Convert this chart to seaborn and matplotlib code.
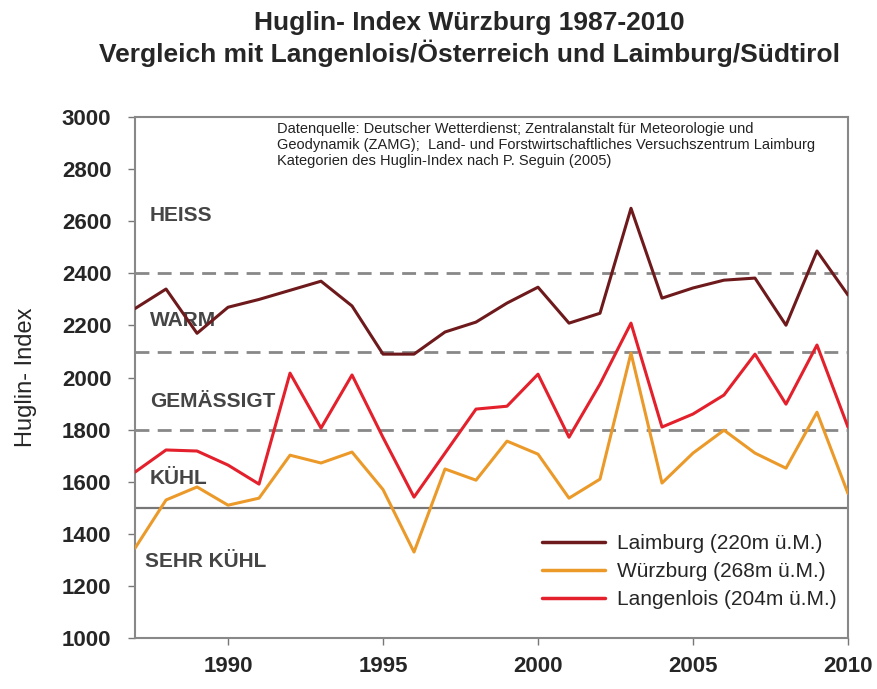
import numpy as np
import pandas as pd
import seaborn as sns
import matplotlib.pyplot as plt

# values
years = list(range(1987, 2011))
laimburg = [2265, 2340, 2170, 2270, 2300, 2335, 2370, 2275, 2090, 2090, 2175, 2213,
            2286, 2347, 2209, 2247, 2650, 2305, 2344, 2374, 2382, 2201, 2486, 2317]
wuerzburg = [1345, 1530, 1580, 1510, 1537, 1702, 1672, 1714, 1570, 1330, 1649, 1606,
             1756, 1706, 1537, 1610, 2094, 1595, 1710, 1798, 1710, 1652, 1867, 1555]
langenlois = [1637, 1722, 1718, 1664, 1591, 2017, 1806, 2010, 1770, 1541, 1710, 1879,
              1890, 2013, 1771, 1975, 2209, 1810, 1860, 1933, 2090, 1898, 2125, 1810]
series_names = ["Laimburg (220m ü.M.)", "Würzburg (268m ü.M.)", "Langenlois (204m ü.M.)"]
colors = ["#6e1a1c", "#eb9a2a", "#e3202b"]

# Huglin categories after Seguin
limits_dashed = [1800, 2100, 2400]
limit_solid = 1500
cat_labels = ["HEISS", "WARM", "GEMÄSSIGT", "KÜHL", "SEHR KÜHL"]
cat_y = [2624, 2221, 1910, 1614, 1292]
cat_x = [1987.48, 1987.48, 1987.48, 1987.48, 1987.32]

source_text = ("Datenquelle: Deutscher Wetterdienst; Zentralanstalt für Meteorologie und\n"
               "Geodynamik (ZAMG);  Land- und Forstwirtschaftliches Versuchszentrum Laimburg\n"
               "Kategorien des Huglin-Index nach P. Seguin (2005)")

df = pd.DataFrame({
    "Jahr": years * 3,
    "Huglin": laimburg + wuerzburg + langenlois,
    "Ort": [series_names[0]] * 24 + [series_names[1]] * 24 + [series_names[2]] * 24,
})

sns.set_style("white")
plt.rcParams['font.family'] = ['Liberation Sans', 'DejaVu Sans']

fig = plt.figure(figsize=(8.78, 6.89), dpi=100)
ax = fig.add_axes([0.1538, 0.074, 0.812, 0.756])

# category borders
for lim in limits_dashed:
    ax.axhline(lim, color="#888888", lw=2.0, ls=(0, (5, 3)), zorder=1)
ax.axhline(limit_solid, color="#777777", lw=1.6, zorder=1)

sns.lineplot(data=df, x="Jahr", y="Huglin", hue="Ort", palette=colors,
             hue_order=series_names, lw=2.2, ax=ax, zorder=3)

for lab, xx, yy in zip(cat_labels, cat_x, cat_y):
    ax.text(xx, yy, lab, fontsize=15, fontweight="bold", color="#454545",
            va="center", ha="left", zorder=2)

ax.text(0.199, 0.99, source_text, transform=ax.transAxes, fontsize=10.5,
        va="top", ha="left", linespacing=1.15, color="#222222")

ax.set_xlim(1987, 2010)
ax.set_ylim(1000, 3000)
ax.set_xticks(range(1990, 2011, 5))
ax.set_yticks(range(1000, 3001, 200))
ax.tick_params(axis="both", labelsize=16, direction="out", length=5, width=1,
               color="#777777", bottom=True, left=True)
ax.tick_params(axis="y", pad=12)
ax.tick_params(axis="x", pad=8)
for lab in ax.get_xticklabels() + ax.get_yticklabels():
    lab.set_fontweight("bold")
ax.set_xlabel("")
ax.set_ylabel("Huglin- Index", fontsize=17, labelpad=18)
for sp in ax.spines.values():
    sp.set_color("#888888")
    sp.set_linewidth(1.5)

leg = ax.legend(loc="lower left", bbox_to_anchor=(0.545, 0.02), frameon=False,
                fontsize=15, handlelength=3.0, labelspacing=0.42, handletextpad=0.6)
for line in leg.get_lines():
    line.set_linewidth(2.5)

fig.text(0.535, 0.966, "Huglin- Index Würzburg 1987-2010", ha="center", va="center",
         fontsize=19, fontweight="bold", family=['Liberation Sans Narrow', 'Liberation Sans'])
fig.text(0.535, 0.922, "Vergleich mit Langenlois/Österreich und Laimburg/Südtirol", ha="center",
         va="center", fontsize=19, fontweight="bold",
         family=['Liberation Sans Narrow', 'Liberation Sans'])

fig.savefig("out.png", dpi=100)
